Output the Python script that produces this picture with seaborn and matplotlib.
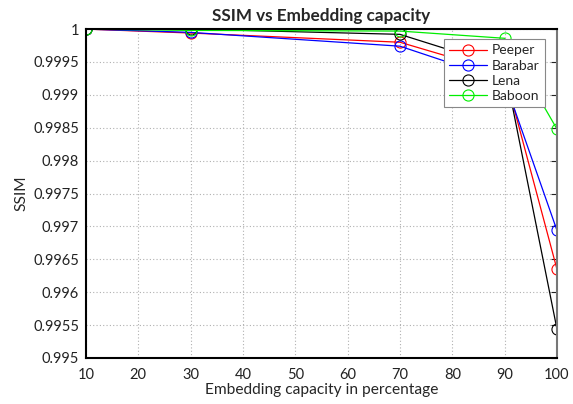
import matplotlib
matplotlib.use("Agg")
import matplotlib.pyplot as plt
import seaborn as sns
import pandas as pd
from matplotlib.ticker import FuncFormatter, MultipleLocator

capacity = [10, 30, 70, 90, 100]
peeper = [1.0, 0.99994, 0.99980, 0.99933, 0.99635]
barabar = [1.0, 0.99995, 0.99974, 0.99921, 0.99694]
lena = [1.0, 1.0, 0.99992, 0.99942, 0.99544]
baboon = [1.0, 0.99998, 0.99997, 0.99986, 0.99848]

series_names = ["Peeper", "Barabar", "Lena", "Baboon"]
series_values = [peeper, barabar, lena, baboon]
colors = ["#ff0000", "#0000ff", "#000000", "#00ee00"]

rows = []
for name, vals in zip(series_names, series_values):
    for x, v in zip(capacity, vals):
        rows.append({"capacity": x, "SSIM": v, "image": name})
df = pd.DataFrame(rows)

sns.set_style("white")
plt.rcParams["font.family"] = ["Lato", "DejaVu Sans"]

fig = plt.figure(figsize=(5.73, 4.04), dpi=100)
ax = fig.add_axes([0.150, 0.114, 0.822, 0.814])

for name, col in zip(series_names, colors):
    sub = df[df["image"] == name]
    sns.lineplot(data=sub, x="capacity", y="SSIM", ax=ax, color=col,
                 linewidth=0.9, marker="o", markersize=8,
                 markerfacecolor="none", markeredgecolor=col,
                 markeredgewidth=0.8, label=name, errorbar=None)

ax.set_xlim(10, 100)
ax.set_ylim(0.995, 1.0)
ax.xaxis.set_major_locator(MultipleLocator(10))
ax.yaxis.set_major_locator(MultipleLocator(0.0005))
ax.yaxis.set_major_formatter(FuncFormatter(lambda v, p: ("%.4f" % v).rstrip("0").rstrip(".")))
ax.grid(True, linestyle=(0, (1, 2)), color="#b0b0b0", linewidth=0.8)
ax.tick_params(direction="in", length=4, labelsize=10.5, colors="#222222",
               top=False, right=True, width=0.8)
ax.tick_params(axis="x", pad=7)
ax.tick_params(axis="y", pad=5)
for s in ["left", "bottom", "top"]:
    ax.spines[s].set_color("black")
    ax.spines[s].set_linewidth(1.5)
ax.spines["right"].set_color("#777777")
ax.spines["right"].set_linewidth(1.5)

ax.set_xlabel("Embedding capacity in percentage", fontsize=11.2, labelpad=1)
ax.set_ylabel("SSIM", fontsize=11.2, labelpad=3)
ax.set_title("SSIM vs Embedding capacity", fontsize=12.3, fontweight="bold", pad=6)

leg = ax.legend(loc="upper right", bbox_to_anchor=(0.9745, 0.9696), fontsize=10,
                frameon=True, fancybox=False, edgecolor="#888888",
                framealpha=1.0, handlelength=2.75, borderpad=0.38,
                labelspacing=0.23, handletextpad=0.35, borderaxespad=0)
leg.get_frame().set_linewidth(0.8)
leg.set_zorder(10)

fig.savefig("out.png", dpi=100)
